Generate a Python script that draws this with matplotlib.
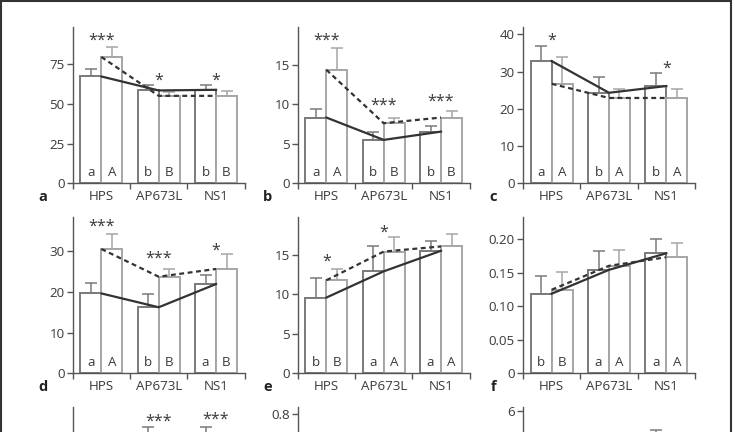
import matplotlib
matplotlib.use("Agg")
import matplotlib.pyplot as plt
from matplotlib.patches import Rectangle
from matplotlib.ticker import FuncFormatter

plt.rcParams["font.family"] = ["Open Sans", "DejaVu Sans"]

groups = ["HPS", "AP673L", "NS1"]

# panel: left bars (solid line), right bars (dashed line), errors, letters, stars
panels = {
    "a": dict(left=[67.3, 58.5, 58.9], left_err=[4.9, 3.4, 3.2],
              right=[79.6, 55.1, 55.1], right_err=[6.1, 2.6, 2.8],
              let_l=["a", "b", "b"], let_r=["A", "B", "B"],
              stars=["***", "*", "*"], star_y=[92.4, 67.2, 67.2],
              ylim=98.6, ticks=[0, 25, 50, 75]),
    "b": dict(left=[8.32, 5.49, 6.54], left_err=[1.06, 1.05, 0.76],
              right=[14.36, 7.6, 8.32], right_err=[2.74, 0.72, 0.84],
              let_l=["a", "b", "b"], let_r=["A", "B", "B"],
              stars=["***", "***", "***"], star_y=[18.6, 10.3, 10.8],
              ylim=19.8, ticks=[0, 5, 10, 15]),
    "c": dict(left=[32.8, 24.3, 26.1], left_err=[4.1, 4.2, 3.6],
              right=[26.7, 22.9, 22.9], right_err=[7.2, 2.5, 2.3],
              let_l=["a", "b", "b"], let_r=["A", "A", "A"],
              stars=["*", "", "*"], star_y=[39.3, 0, 32.0],
              ylim=42.0, ticks=[0, 10, 20, 30, 40]),
    "d": dict(left=[19.6, 16.2, 21.9], left_err=[2.5, 3.3, 2.2],
              right=[30.5, 23.7, 25.6], right_err=[3.8, 2.0, 3.6],
              let_l=["a", "b", "a"], let_r=["A", "B", "B"],
              stars=["***", "***", "*"], star_y=[36.9, 29.2, 31.2],
              ylim=38.4, ticks=[0, 10, 20, 30]),
    "e": dict(left=[9.58, 12.9, 15.5], left_err=[2.5, 3.2, 1.2],
              right=[11.77, 15.4, 16.05], right_err=[1.43, 1.8, 1.55],
              let_l=["b", "a", "a"], let_r=["B", "A", "A"],
              stars=["*", "*", ""], star_y=[14.6, 18.3, 0],
              ylim=19.8, ticks=[0, 5, 10, 15]),
    "f": dict(left=[0.1185, 0.154, 0.1787], left_err=[0.0265, 0.0287, 0.0213],
              right=[0.1244, 0.16, 0.1728], right_err=[0.0261, 0.024, 0.0217],
              let_l=["b", "a", "a"], let_r=["B", "A", "A"],
              stars=["", "", ""], star_y=[0, 0, 0],
              ylim=0.233, ticks=[0, 0.05, 0.10, 0.15, 0.20]),
    "g": dict(left=[0.15, 0.19, 0.19], left_err=[0.03, 0.023, 0.023],
              right=[0.165, 0.14, 0.15], right_err=[0.02, 0.02, 0.02],
              let_l=["a", "b", "b"], let_r=["A", "B", "B"],
              stars=["***", "***", "***"], star_y=[0.197, 0.229, 0.231],
              ylim=0.245, ticks=[0, 0.05, 0.10, 0.15, 0.20]),
    "h": dict(left=[0.45, 0.55, 0.62], left_err=[0.08, 0.08, 0.08],
              right=[0.4, 0.5, 0.55], right_err=[0.07, 0.07, 0.07],
              let_l=["a", "a", "a"], let_r=["A", "A", "A"],
              stars=["", "", ""], star_y=[0, 0, 0],
              ylim=0.84, ticks=[0, 0.2, 0.4, 0.6, 0.8]),
    "i": dict(left=[3.6, 4.0, 4.6], left_err=[0.6, 0.6, 0.66],
              right=[3.3, 3.8, 4.2], right_err=[0.6, 0.6, 0.6],
              let_l=["a", "a", "a"], let_r=["A", "A", "A"],
              stars=["", "", ""], star_y=[0, 0, 0],
              ylim=6.16, ticks=[0, 2, 4, 6]),
}

W, H = 735, 432
fig = plt.figure(figsize=(W / 100, H / 100), dpi=100)

col_x = [72.7, 297.7, 523.0]
row_zero = [183.3, 373.3, 563.3]
ax_w, ax_h = 172.0, 156.5

dark = "#333333"
axis_col = "#555555"
txt = "#3a3a3a"
edge_l = "#7a7a7a"
edge_r = "#a6a6a6"
bw = 0.366
fs = 9.6

for k, name in enumerate("abcdefghi"):
    p = panels[name]
    r, c = divmod(k, 3)
    x0 = col_x[c]
    y0 = row_zero[r]
    ax = fig.add_axes([x0 / W, (H - y0) / H, ax_w / W, ax_h / H])

    centers = [0.5, 1.5, 2.5]
    xl = [cc - bw / 2 for cc in centers]
    xr = [cc + bw / 2 for cc in centers]
    ax.bar(xl, p["left"], width=bw, color="white", edgecolor=edge_l, linewidth=1.4, zorder=2)
    ax.bar(xr, p["right"], width=bw, color="white", edgecolor=edge_r, linewidth=1.4, zorder=2)
    ax.errorbar(xl, p["left"], yerr=[[0] * 3, p["left_err"]], fmt="none",
                ecolor=edge_l, elinewidth=1.1, capsize=4.2, capthick=1.1, zorder=1)
    ax.errorbar(xr, p["right"], yerr=[[0] * 3, p["right_err"]], fmt="none",
                ecolor=edge_r, elinewidth=1.1, capsize=4.2, capthick=1.1, zorder=1)
    ax.plot(centers, p["left"], color=dark, linewidth=1.6, zorder=4)
    ax.plot(centers, p["right"], color=dark, linewidth=1.6, dashes=(2.2, 1.6), zorder=4)

    for i in range(3):
        ax.annotate(p["let_l"][i], xy=(xl[i], 0), xytext=(0, 8), textcoords="offset points",
                    ha="center", va="center", fontsize=fs, color=txt, zorder=5)
        ax.annotate(p["let_r"][i], xy=(xr[i], 0), xytext=(0, 8), textcoords="offset points",
                    ha="center", va="center", fontsize=fs, color=txt, zorder=5)
        if p["stars"][i]:
            ax.annotate(p["stars"][i], xy=(centers[i], p["star_y"][i]), xytext=(0, -3),
                        textcoords="offset points", ha="center", va="center",
                        fontsize=11.5, color=txt, zorder=5)

    ax.set_xlim(0, 3)
    ax.set_ylim(0, p["ylim"])
    ax.set_yticks(p["ticks"])
    if name in "fg":
        ax.yaxis.set_major_formatter(FuncFormatter(lambda v, pos: "0" if v == 0 else f"{v:.2f}"))
    elif name == "h":
        ax.yaxis.set_major_formatter(FuncFormatter(lambda v, pos: "0" if v == 0 else f"{v:.1f}"))
    ax.set_xticks([0, 1, 2, 3])
    ax.set_xticklabels([])
    ax.set_xticks(centers, minor=True)
    ax.set_xticklabels(groups, minor=True)
    ax.tick_params(axis="x", which="major", direction="out", length=4.3, width=1.0, color=axis_col)
    ax.tick_params(axis="x", which="minor", length=0, pad=4.5, labelsize=fs, labelcolor=txt)
    ax.tick_params(axis="y", direction="out", length=4.3, width=1.0, color=axis_col,
                   labelsize=fs, labelcolor=txt, pad=1.5)
    for s in ["top", "right"]:
        ax.spines[s].set_visible(False)
    for s in ["left", "bottom"]:
        ax.spines[s].set_color(axis_col)
        ax.spines[s].set_linewidth(1.0)

    ax.annotate(name, xy=(0, 0), xycoords="axes fraction", xytext=(-21.4, -9.8),
                textcoords="offset points", ha="center", va="center",
                fontsize=10.5, fontweight="bold", color="#222222")

fig.patches.append(Rectangle((0.8 / W, -0.2), 730.5 / W, (H - 0.8) / H + 0.2, fill=False,
                             edgecolor="#333333", linewidth=1.5, transform=fig.transFigure,
                             figure=fig))

fig.savefig("out.png", dpi=100)
